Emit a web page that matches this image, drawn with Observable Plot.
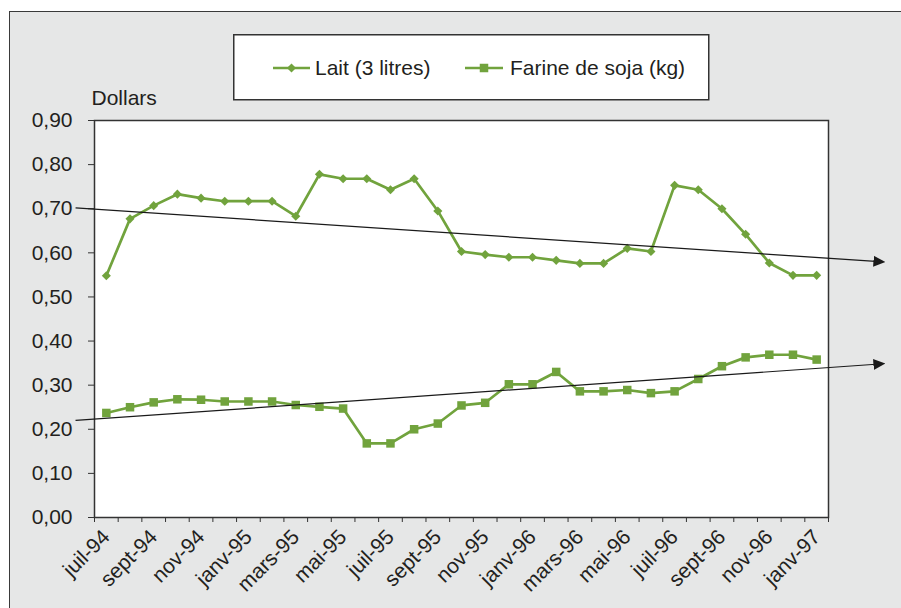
<!DOCTYPE html>
<html><head><meta charset="utf-8">
<script src="https://cdn.jsdelivr.net/npm/d3@7"></script>
<script src="https://cdn.jsdelivr.net/npm/@observablehq/plot@0.6"></script>
<style>
body{margin:0;background:#fff;font-family:"Liberation Sans",Arial,sans-serif;overflow:hidden;}
#panel{position:absolute;left:9px;top:11px;width:920px;height:620px;background:#e6e7e7;border-top:1.5px solid #3a3a3a;border-left:1.5px solid #3a3a3a;}
#chart{position:absolute;left:0;top:0;}
#legend{position:absolute;left:233px;top:34px;}
</style></head><body>
<div id="panel"></div>
<div id="chart"></div>
<div id="legend"></div>
<script>
const months = ["juil-94","août-94","sept-94","oct-94","nov-94","déc-94","janv-95","févr-95","mars-95","avr-95","mai-95","juin-95",
  "juil-95","août-95","sept-95","oct-95","nov-95","déc-95","janv-96","févr-96","mars-96","avr-96","mai-96","juin-96",
  "juil-96","août-96","sept-96","oct-96","nov-96","déc-96","janv-97"];
const milk = [0.548,0.677,0.707,0.733,0.724,0.717,0.717,0.717,0.683,0.778,0.768,0.768,
  0.743,0.768,0.695,0.603,0.596,0.590,0.590,0.583,0.576,0.576,0.610,0.603,
  0.753,0.743,0.700,0.642,0.577,0.549,0.549];
const soy = [0.237,0.250,0.261,0.268,0.267,0.263,0.263,0.263,0.255,0.251,0.247,0.168,
  0.168,0.200,0.213,0.254,0.260,0.302,0.302,0.330,0.286,0.286,0.289,0.282,
  0.286,0.314,0.343,0.363,0.369,0.369,0.358];
const seriesNames = ["Lait (3 litres)", "Farine de soja (kg)"];
const yTicks = [0,0.1,0.2,0.3,0.4,0.5,0.6,0.7,0.8,0.9];
// trend arrows (index units, dollars)
const trendNames = ["Lait", "Farine de soja"];
const trendX1 = [-1.3, -1.3];
const trendY1 = [0.702, 0.220];
const trendX2 = [32.65, 32.65];
const trendY2 = [0.580, 0.348];

const green = "#71a33d";
const ink = "#231f20";

const idx = months.map((_, i) => i);
const milkData = idx.map(i => ({i, v: milk[i]}));
const soyData = idx.map(i => ({i, v: soy[i]}));
const trends = trendNames.map((n, k) => ({n, x1: trendX1[k], y1: trendY1[k], x2: trendX2[k], y2: trendY2[k]}));
const bounds = d3.range(months.length + 1).map(i => i - 0.5);
const labelIdx = idx.filter(i => i % 2 === 0);

const svg = Plot.plot({
  width: 901, height: 608,
  marginLeft: 94, marginRight: 73, marginTop: 120, marginBottom: 91,
  style: {background: "transparent", fontFamily: "'Liberation Sans', Arial, sans-serif", color: ink},
  x: {domain: [-0.5, months.length - 0.5]},
  y: {domain: [0, 0.9]},
  marks: [
    Plot.frame({fill: "white", stroke: "#333", strokeWidth: 1.5}),
    Plot.axisY({ticks: yTicks, tickSize: 6, tickPadding: 16, fontSize: 21, stroke: "#333",
      tickFormat: d => d.toFixed(2).replace(".", ","), label: null}),
    Plot.axisX({ticks: bounds, tickSize: 5, tickFormat: () => "", stroke: "#333", label: null}),
    Plot.axisX({ticks: labelIdx, tickSize: 0, tickPadding: 16, tickRotate: -45, fontSize: 21,
      tickFormat: i => months[i], label: null}),
    Plot.text(["Dollars"], {frameAnchor: "top-left", dx: -3, dy: -16, textAnchor: "start", lineAnchor: "bottom", fontSize: 21, fill: ink}),
    Plot.line(milkData, {x: "i", y: "v", stroke: green, strokeWidth: 2.7}),
    Plot.dot(milkData, {x: "i", y: "v", symbol: "diamond2", r: 4.1, fill: green}),
    Plot.line(soyData, {x: "i", y: "v", stroke: green, strokeWidth: 2.7}),
    Plot.dot(soyData, {x: "i", y: "v", symbol: "square", r: 4.8, fill: green}),
    Plot.link(trends, {x1: "x1", y1: "y1", x2: "x2", y2: "y2", stroke: "#1a1a1a", strokeWidth: 1.2, markerEnd: "arrow"})
  ]
});
d3.select(svg).selectAll("marker")
  .attr("viewBox", "-6 -6 12 12").attr("markerWidth", 12).attr("markerHeight", 12)
  .attr("markerUnits", "userSpaceOnUse").attr("fill", "#1a1a1a").attr("stroke", "none")
  .selectAll("path").attr("d", "M-6,-5.5L6,0L-6,5.5Z");
document.getElementById("chart").appendChild(svg);

// legend
const lg = d3.select("#legend").append("svg").attr("width", 478).attr("height", 68);
lg.append("rect").attr("x", 0.75).attr("y", 0.75).attr("width", 475).attr("height", 65)
  .attr("fill", "white").attr("stroke", "#333").attr("stroke-width", 1.5);
const items = [
  {x0: 40, x1: 77, tx: 82, sym: d3.symbolDiamond2, size: Math.PI * 4.1 * 4.1},
  {x0: 232, x1: 270, tx: 277, sym: d3.symbolSquare, size: Math.PI * 4.8 * 4.8}
];
items.forEach((it, k) => {
  lg.append("line").attr("x1", it.x0).attr("x2", it.x1).attr("y1", 34).attr("y2", 34)
    .attr("stroke", green).attr("stroke-width", 2.7);
  lg.append("path").attr("d", d3.symbol(it.sym, it.size)())
    .attr("transform", `translate(${(it.x0 + it.x1) / 2},34)`).attr("fill", green);
  lg.append("text").attr("x", it.tx).attr("y", 41).attr("fill", ink)
    .attr("font-size", 21).attr("font-family", "'Liberation Sans', Arial, sans-serif").text(seriesNames[k]);
});
</script>
</body></html>
